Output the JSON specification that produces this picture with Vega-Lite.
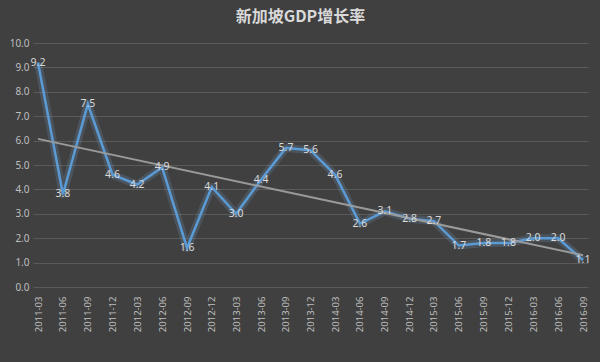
{
  "$schema": "https://vega.github.io/schema/vega-lite/v6.json",
  "autosize": "none",
  "width": 555,
  "height": 244,
  "padding": {"left": 33, "top": 43, "right": 12, "bottom": 75},
  "background": "#404040",
  "title": {
    "text": "新加坡GDP增长率",
    "font": "Noto Sans CJK SC",
    "fontSize": 16,
    "fontWeight": "bold",
    "color": "#d9d9d9",
    "anchor": "middle",
    "dx": -10,
    "offset": 13
  },
  "config": {
    "view": {"stroke": null},
    "axis": {"labelFont": "Noto Sans", "labelColor": "#bfbfbf", "labelFontSize": 9.5}
  },
  "data": {
    "values": [
      {"date": "2011-03-01", "v": 9.2},
      {"date": "2011-06-01", "v": 3.8},
      {"date": "2011-09-01", "v": 7.5},
      {"date": "2011-12-01", "v": 4.6},
      {"date": "2012-03-01", "v": 4.2},
      {"date": "2012-06-01", "v": 4.9},
      {"date": "2012-09-01", "v": 1.6},
      {"date": "2012-12-01", "v": 4.1},
      {"date": "2013-03-01", "v": 3.0},
      {"date": "2013-06-01", "v": 4.4},
      {"date": "2013-09-01", "v": 5.7},
      {"date": "2013-12-01", "v": 5.6},
      {"date": "2014-03-01", "v": 4.6},
      {"date": "2014-06-01", "v": 2.6},
      {"date": "2014-09-01", "v": 3.1},
      {"date": "2014-12-01", "v": 2.8},
      {"date": "2015-03-01", "v": 2.7},
      {"date": "2015-06-01", "v": 1.7},
      {"date": "2015-09-01", "v": 1.8},
      {"date": "2015-12-01", "v": 1.8},
      {"date": "2016-03-01", "v": 2.0},
      {"date": "2016-06-01", "v": 2.0},
      {"date": "2016-09-01", "v": 1.1}
    ]
  },
  "encoding": {
    "x": {
      "field": "date",
      "type": "temporal",
      "scale": {"padding": 5},
      "axis": {
        "title": null,
        "format": "%Y-%m",
        "labelAngle": -90,
        "labelAlign": "right",
        "labelBaseline": "middle",
        "labelPadding": 9,
        "ticks": false,
        "domain": false,
        "grid": false,
        "values": [
          "2011-03-01", "2011-06-01", "2011-09-01", "2011-12-01",
          "2012-03-01", "2012-06-01", "2012-09-01", "2012-12-01",
          "2013-03-01", "2013-06-01", "2013-09-01", "2013-12-01",
          "2014-03-01", "2014-06-01", "2014-09-01", "2014-12-01",
          "2015-03-01", "2015-06-01", "2015-09-01", "2015-12-01",
          "2016-03-01", "2016-06-01", "2016-09-01"
        ],
        "labelOverlap": false
      }
    },
    "y": {
      "field": "v",
      "type": "quantitative",
      "scale": {"domain": [0, 10], "nice": false},
      "axis": {
        "title": null,
        "format": ".1f",
        "values": [0,1,2,3,4,5,6,7,8,9,10],
        "labelOverlap": false,
        "labelFontSize": 10,
        "ticks": false,
        "domain": false,
        "grid": true,
        "gridColor": "#5a5a5a",
        "gridWidth": 1,
        "labelPadding": 4
      }
    }
  },
  "layer": [
    {
      "mark": {"type": "line", "color": "#7fb2e5", "strokeWidth": 8, "opacity": 0.18, "strokeJoin": "round"}
    },
    {
      "mark": {"type": "line", "color": "#5b9bd5", "strokeWidth": 2.5, "strokeJoin": "miter"}
    },
    {
      "transform": [{"regression": "v", "on": "date"}],
      "mark": {"type": "line", "color": "#9a9a9a", "strokeWidth": 2}
    },
    {
      "mark": {"type": "text", "color": "#d9d9d9", "font": "Noto Sans", "fontSize": 10.5, "baseline": "middle", "align": "center"},
      "encoding": {"text": {"field": "v", "type": "quantitative", "format": ".1f"}}
    }
  ]
}
